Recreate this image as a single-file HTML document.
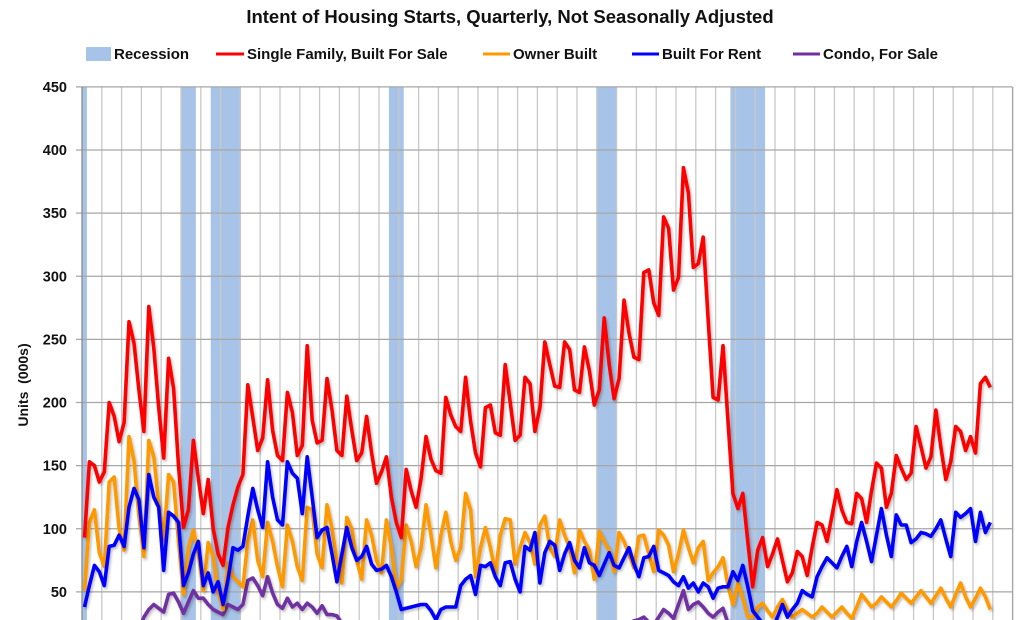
<!DOCTYPE html>
<html><head><meta charset="utf-8"><style>
html,body{margin:0;padding:0;background:#fff;width:1024px;height:620px;overflow:hidden;}
svg{display:block;font-family:"Liberation Sans",Arial,sans-serif;}
</style></head><body>
<svg id="chart" width="1024" height="620" viewBox="0 0 1024 620" xmlns="http://www.w3.org/2000/svg" style="overflow:hidden">
  <defs><clipPath id="plotclip"><rect x="82" y="80" width="931" height="540"/></clipPath>
  <filter id="sh" x="-5%" y="-5%" width="110%" height="110%"><feDropShadow dx="1.5" dy="2" stdDeviation="1.2" flood-color="#000" flood-opacity="0.25"/></filter></defs>
  <text x="510" y="23" text-anchor="middle" font-size="18.5" font-weight="bold" fill="#111">Intent of Housing Starts, Quarterly, Not Seasonally Adjusted</text>
  <g font-size="15" font-weight="bold" fill="#111">
    <g><rect x="86" y="47" width="25" height="14" fill="#a7c4e8"/><text x="114" y="59">Recession</text></g>
    <g><line x1="216" y1="54" x2="244" y2="54" stroke="#ff0000" stroke-width="3"/><text x="247" y="59">Single Family, Built For Sale</text></g>
    <g><line x1="483" y1="54" x2="510" y2="54" stroke="#ff9900" stroke-width="3"/><text x="513" y="59">Owner Built</text></g>
    <g><line x1="632" y1="54" x2="659" y2="54" stroke="#0000ff" stroke-width="3"/><text x="662" y="59">Built For Rent</text></g>
    <g><line x1="793" y1="54" x2="820" y2="54" stroke="#7030a0" stroke-width="3"/><text x="823" y="59">Condo, For Sale</text></g>
  </g>
  <text transform="translate(28,385) rotate(-90)" text-anchor="middle" font-size="14" font-weight="bold" fill="#111" xml:space="preserve" style="white-space:pre">Units  (000s)</text>
  <g id="recessions"></g>
  <g id="grid"></g>
  <g id="yticks" font-size="14.5" font-weight="bold" fill="#111"></g>
  <g id="series" clip-path="url(#plotclip)"></g>
</svg>
<script>
const yTickValues = [50,100,150,200,250,300,350,400,450];
const recessionStart = [0,20,26,62,104,131];
const recessionEnd = [0,22,31,64,107,137];
const singleFamily = [93,153,150,137,145,200,189,169,184,264,247,210,
177,276,243,196,156,235,211,150,101,115,170,140,
112,139,100,80,71,101,119,133,143,214,188,162,
172,218,178,158,154,208,192,158,166,245,186,168,
170,219,194,162,158,205,178,154,160,189,160,136,
145,157,125,105,93,147,130,117,140,173,155,146,
144,204,190,181,177,220,185,160,149,196,198,176,
174,230,200,170,174,220,215,177,196,248,230,213,
212,248,242,210,208,244,225,198,210,267,230,203,
219,281,255,236,234,303,305,279,269,347,338,289,
299,386,366,307,310,331,265,204,202,245,185,128,
116,128,90,54,83,93,70,80,92,75,58,65,
82,78,63,85,105,103,90,110,131,115,105,104,
128,124,105,130,152,148,117,128,158,148,139,144,
181,165,148,157,194,165,139,153,181,177,162,173,
160,215,220,212];
const ownerBuilt = [51,105,115,81,70,137,141,100,83,173,154,110,
78,170,157,120,91,143,137,90,48,85,99,80,
51,89,78,50,36,73,62,58,54,90,107,75,
62,105,90,70,54,103,90,70,59,117,115,80,
69,119,100,75,57,109,100,75,60,107,95,75,
65,107,85,53,60,103,90,70,85,119,95,69,
95,113,90,75,85,128,115,62,85,101,85,65,
95,108,107,72,85,97,89,72,103,110,85,78,
107,95,85,65,99,90,83,60,98,90,83,66,
97,90,80,69,94,95,80,66,99,95,87,66,
80,99,85,73,85,90,59,65,70,77,55,40,
57,45,30,30,38,41,35,30,38,44,36,30,
33,36,33,30,33,38,34,30,34,38,33,29,
38,48,43,38,41,46,42,38,43,49,45,41,
46,51,46,41,47,53,45,38,48,57,46,38,
45,53,46,36];
const builtForRent = [38,55,71,66,55,86,87,95,86,117,132,123,
85,143,125,117,67,113,110,105,55,65,80,90,
55,65,50,58,40,60,85,83,86,110,132,115,
101,153,125,107,103,153,144,140,112,157,125,93,
99,101,80,58,80,101,85,75,78,86,72,67,
68,71,62,50,36,37,38,39,40,40,35,28,
36,38,38,38,55,60,63,48,71,70,73,62,
55,73,74,60,50,86,83,97,57,81,90,87,
67,80,89,75,69,85,73,71,63,72,81,71,
69,77,85,72,62,77,78,86,67,65,63,58,
55,62,53,57,50,57,54,45,53,54,54,66,
59,71,54,35,30,25,22,20,30,40,30,36,
41,51,48,46,62,70,77,73,69,78,86,70,
90,105,90,74,95,116,95,78,111,103,103,89,
92,97,96,94,100,107,92,78,113,109,112,116,
90,113,97,105];
const condoForSale = [15,16,18,17,16,18,20,19,18,20,22,20,
30,36,40,37,34,48,49,42,33,42,51,45,
45,40,36,34,32,40,38,36,40,59,61,55,
47,62,49,40,37,45,38,41,36,41,38,33,
39,32,32,31,25,24,22,20,21,19,18,17,
16,15,14,12,10,9,8,8,9,10,11,12,
13,14,15,16,18,17,16,18,20,19,18,20,
19,20,21,20,19,21,20,19,20,22,21,20,
21,23,22,21,20,22,23,22,21,24,25,24,
25,26,25,27,28,30,26,24,30,36,33,29,
40,51,36,40,42,38,33,30,34,37,25,15,
10,8,6,5,4,4,5,5,6,6,7,6,
7,8,8,8,9,10,10,10,11,12,12,12,
13,14,13,14,15,16,15,16,17,18,17,18,
19,20,19,20,21,22,20,21,22,23,22,23,
22,24,23,22];

const NS = 'http://www.w3.org/2000/svg';
const plotLeft = 82, plotTop = 87, quarterW = 4.95, totalQuarters = 188;
const plotRight = plotLeft + quarterW * totalQuarters;
function yScale(v){ return 655 - v * (505/400); }
function xEdge(q){ return plotLeft + q * quarterW; }
function xCenter(i){ return plotLeft + (i + 0.5) * quarterW; }

const rec = document.getElementById('recessions');
for (let k = 0; k < recessionStart.length; k++) {
  const r = document.createElementNS(NS, 'rect');
  r.setAttribute('x', xEdge(recessionStart[k]));
  r.setAttribute('y', plotTop);
  r.setAttribute('width', xEdge(recessionEnd[k] + 1) - xEdge(recessionStart[k]));
  r.setAttribute('height', 620 - plotTop);
  r.setAttribute('fill', '#a7c4e8');
  
  
  rec.appendChild(r);
}

const grid = document.getElementById('grid');
for (let q = 4; q <= totalQuarters; q += 4) {
  const l = document.createElementNS(NS, 'line');
  l.setAttribute('x1', xEdge(q)); l.setAttribute('x2', xEdge(q));
  l.setAttribute('y1', plotTop); l.setAttribute('y2', 620);
  l.setAttribute('stroke', '#c8c8c8'); l.setAttribute('stroke-width', '1.3');
  
  
  grid.appendChild(l);
}
const yt = document.getElementById('yticks');
yTickValues.forEach(v => {
  const y = yScale(v);
  const l = document.createElementNS(NS, 'line');
  l.setAttribute('x1', plotLeft - 6); l.setAttribute('x2', plotRight);
  l.setAttribute('y1', y); l.setAttribute('y2', y);
  l.setAttribute('stroke', '#a6a6a6'); l.setAttribute('stroke-width', '1.3');
  
  
  grid.appendChild(l);
  const t = document.createElementNS(NS, 'text');
  t.setAttribute('x', 67); t.setAttribute('y', y + 5);
  t.setAttribute('text-anchor', 'end');
  t.textContent = v;
  
  
  yt.appendChild(t);
});
const ax = document.createElementNS(NS, 'line');
ax.setAttribute('x1', plotLeft); ax.setAttribute('x2', plotLeft);
ax.setAttribute('y1', plotTop); ax.setAttribute('y2', 620);
ax.setAttribute('stroke', '#8c8c8c'); ax.setAttribute('stroke-width', '1.3');


grid.appendChild(ax);
const rb = document.createElementNS(NS, 'line');
rb.setAttribute('x1', plotRight); rb.setAttribute('x2', plotRight);
rb.setAttribute('y1', plotTop); rb.setAttribute('y2', 620);
rb.setAttribute('stroke', '#a6a6a6'); rb.setAttribute('stroke-width', '1.3');


grid.appendChild(rb);

const seriesG = document.getElementById('series');
function drawSeries(arr, color, name) {
  const p = document.createElementNS(NS, 'path');
  let d = '';
  arr.forEach((v, i) => { d += (i ? 'L' : 'M') + xCenter(i).toFixed(1) + ',' + yScale(v).toFixed(1); });
  p.setAttribute('d', d);
  p.setAttribute('fill', 'none');
  p.setAttribute('stroke', color);
  p.setAttribute('stroke-width', '3.6');
  p.setAttribute('stroke-linejoin', 'round');
  p.setAttribute('filter', 'url(#sh)');
  
  
  seriesG.appendChild(p);
}
drawSeries(condoForSale, '#7030a0', 'condo-for-sale-line');
drawSeries(ownerBuilt, '#ff9900', 'owner-built-line');
drawSeries(builtForRent, '#0000ff', 'built-for-rent-line');
drawSeries(singleFamily, '#ff0000', 'single-family-line');
</script>
</body></html>
